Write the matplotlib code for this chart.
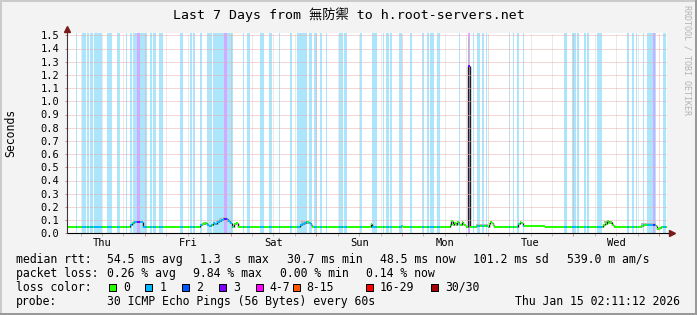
import datetime as dt
import numpy as np
import matplotlib
matplotlib.use("Agg")
import matplotlib.pyplot as plt
import matplotlib.dates as mdates
from matplotlib.collections import LineCollection
from matplotlib.patches import Rectangle
from matplotlib.ticker import NullFormatter, FormatStrFormatter

# ---------------- data ----------------
END = dt.datetime(2026, 1, 15, 2, 11, 12)
START = END - dt.timedelta(days=7)

title = "Last 7 Days from 無防禦 to h.root-servers.net"

# median rtt as step series: hours since window start, seconds
med_h = [0.0, 3.64, 5.88, 10.92, 12.6, 14.28, 15.4,
         17.64, 18.2, 18.76, 19.32, 20.72, 21.14,
         25.48, 26.88, 31.08, 33.32,
         37.24, 37.8, 38.64, 39.2, 39.76, 40.32, 40.88, 41.44, 42.0, 42.56,
         43.12, 43.68, 44.52, 45.08, 45.64, 46.2, 46.76, 47.32, 47.74,
         51.8, 53.48, 62.44, 64.12,
         65.24, 65.8, 66.36, 66.92, 67.76, 68.32, 68.6,
         70.28, 71.4, 76.44, 77.56, 84.98, 85.26, 89.04, 90.44, 93.52, 93.94,
         98.84, 99.96,
         107.24, 107.52, 107.94, 108.36, 108.78, 109.2, 109.62, 110.04, 110.6,
         110.88, 111.16, 111.72, 112.28, 112.7,
         114.52, 117.88, 118.16, 118.44, 118.86, 119.28, 119.56,
         120.4, 122.08, 122.64, 123.48,
         126.28, 126.7, 127.12, 127.54, 133.28, 133.84,
         135.24, 136.92, 145.04, 146.44,
         150.08, 150.5, 150.92, 151.2, 151.62, 152.04, 152.32, 152.6, 153.02,
         156.24, 157.64,
         160.72, 161.28, 164.92, 165.2, 165.76, 166.32]
med_v = [0.050, 0.044, 0.050, 0.044, 0.050, 0.044, 0.050,
         0.062, 0.075, 0.082, 0.087, 0.083, 0.050,
         0.044, 0.050, 0.044, 0.050,
         0.060, 0.072, 0.078, 0.065, 0.052, 0.060, 0.075, 0.068, 0.088, 0.095,
         0.100, 0.110, 0.105, 0.090, 0.075, 0.050, 0.072, 0.075, 0.050,
         0.044, 0.050, 0.044, 0.050,
         0.060, 0.070, 0.078, 0.083, 0.080, 0.065, 0.050,
         0.044, 0.050, 0.044, 0.050, 0.072, 0.050, 0.044, 0.050, 0.058, 0.050,
         0.044, 0.050,
         0.060, 0.092, 0.065, 0.075, 0.060, 0.085, 0.070, 0.062, 0.088,
         0.072, 0.060, 0.050, 1.270, 0.050,
         0.052, 0.050, 0.072, 0.085, 0.080, 0.065, 0.050,
         0.044, 0.050, 0.044, 0.050,
         0.070, 0.082, 0.075, 0.058, 0.052, 0.050,
         0.044, 0.050, 0.044, 0.050,
         0.065, 0.080, 0.070, 0.090, 0.075, 0.078, 0.082, 0.065, 0.050,
         0.044, 0.050,
         0.055, 0.060, 0.055, 0.030, 0.040, 0.046]

# periods with 1 lost ping (hours since start)
loss1_bands = [(2.44, 2.8), (4.2, 5.32), (5.52, 6.16), (6.44, 7.36), (7.56, 9.72),
               (11.2, 12.6), (13.92, 14.92), (16.44, 16.8), (17.56, 18.2), (18.48, 19.6),
               (20.52, 22.32), (23.24, 23.88), (24.08, 25.0), (25.76, 26.96), (31.64, 32.48),
               (34.36, 35.08), (35.28, 35.76), (37.16, 37.88), (39.2, 40.6), (40.8, 43.88),
               (44.72, 46.48), (49.2, 49.56), (50.32, 51.24), (53.96, 55.24), (56.56, 57.32),
               (59.36, 59.64), (62.44, 63.0), (64.4, 67.2), (67.76, 68.68), (69.16, 69.92),
               (70.84, 71.4), (72.44, 72.8), (76.16, 77.28), (77.56, 78.4), (82.04, 82.6),
               (85.4, 85.88), (85.96, 86.88), (88.48, 88.76), (89.32, 90.16), (90.36, 91.0),
               (92.96, 93.8), (96.04, 96.6), (99.48, 99.96), (100.8, 101.44), (101.64, 102.68),
               (103.6, 104.44), (109.76, 110.12), (113.6, 113.96), (114.8, 115.72),
               (116.12, 116.76), (117.24, 117.52), (123.68, 124.12), (124.8, 125.16),
               (125.92, 126.56), (127.6, 127.96), (139.08, 140.0), (141.4, 141.96),
               (142.04, 142.52), (142.8, 143.36), (144.76, 145.32), (145.6, 146.16),
               (148.32, 149.8), (156.8, 157.36), (158.28, 158.68), (159.24, 159.6),
               (161.2, 161.56), (162.4, 164.16), (164.56, 164.92), (166.88, 167.64)]
# periods with 3 lost pings
loss3_bands = [(19.6, 20.52), (43.88, 44.72), (112.28, 112.75), (164.16, 164.56)]

# smoke (spread of pings): t0, t1, low, high
smoke = [(18.48, 20.72, 0.082, 0.093), (38.08, 38.92, 0.075, 0.086),
         (41.72, 42.6, 0.086, 0.100), (42.6, 43.7, 0.095, 0.116),
         (43.7, 44.6, 0.105, 0.126), (44.6, 45.4, 0.088, 0.112),
         (65.5, 67.8, 0.070, 0.090), (112.4, 112.6, 1.27, 1.48),
         (114.5, 117.9, 0.052, 0.068), (150.3, 152.6, 0.075, 0.090),
         (160.7, 164.9, 0.060, 0.075)]

rtt_label = "median rtt:"
rtt_stats = ["54.5 ms avg", "1.3  s max", "30.7 ms min", "48.5 ms now",
             "101.2 ms sd", "539.0 m am/s"]
loss_label = "packet loss:"
loss_stats = ["0.26 % avg", "9.84 % max", "0.00 % min", "0.14 % now"]
color_label = "loss color:"
loss_names = ["0", "1", "2", "3", "4-7", "8-15", "16-29", "30/30"]
loss_colors = ["#26ff00", "#00b8ff", "#0059ff", "#7e00ff", "#ff00ff",
               "#ff5500", "#ff0000", "#a00000"]
probe_label = "probe:"
probe_text = "30 ICMP Echo Pings (56 Bytes) every 60s"
ylabel = "Seconds"
watermark = "RRDTOOL / TOBI OETIKER"

# ---------------- style / layout ----------------
W, H = 697, 315
MONO = ["DejaVu Sans Mono", "Noto Sans CJK TC"]
plt.rcParams["font.family"] = MONO
BG = "#f3f3f3"
MGRID = "#e4b0b0"
GRID = "#d6d6d6"
ARROW = "#7a1a1a"
band1_col = "#abe6fc"
band3_col = "#d2aaff"

def fy(py):
    return 1 - py / H

fig = plt.figure(figsize=(W / 100, H / 100), dpi=100, facecolor=BG)
ax = fig.add_axes([67 / W, 1 - 233.3 / H, 600 / W, 200.3 / H])
ax.set_facecolor("white")
x0 = mdates.date2num(START)

def tx(h):
    return x0 + np.asarray(h, dtype=float) / 24.0

ax.set_xlim(mdates.date2num(START), mdates.date2num(END))
ax.set_ylim(0, 1.5 * 200.3 / 198.0)

for s in ax.spines.values():
    s.set_visible(False)

# loss background bands
for a, b in loss1_bands:
    ax.axvspan(tx(a), tx(b), color=band1_col, lw=0, zorder=0.5)
for a, b in loss3_bands:
    ax.axvspan(tx(a), tx(b), color=band3_col, lw=0, zorder=0.5)

# grid
ax.set_yticks(np.round(np.arange(0, 1.51, 0.1), 1))
ax.yaxis.set_major_formatter(FormatStrFormatter("%.1f"))
ax.xaxis.set_major_locator(mdates.DayLocator())
ax.xaxis.set_minor_locator(mdates.HourLocator(byhour=[0, 6, 12, 18]))
ax.xaxis.set_major_formatter(NullFormatter())
ax.set_axisbelow(False)
ax.grid(True, which="major", axis="both", color=MGRID, linestyle=(0, (1, 1)),
        linewidth=0.72, zorder=1)
ax.grid(True, which="minor", axis="x", color=GRID, linestyle=(0, (1, 1)),
        linewidth=0.72, zorder=1)
ax.tick_params(axis="x", which="major", length=2.2, width=0.72, color="#d08a8a",
               direction="out")
ax.tick_params(axis="x", which="minor", length=2.2, width=0.72, color="#bbbbbb",
               direction="out")
ax.tick_params(axis="y", which="major", length=1.5, width=0.72, color="#d08a8a",
               direction="out", labelsize=7.5, pad=4.0)

# day labels at noon
d = START.replace(hour=12, minute=0, second=0)
while d < END:
    ax.annotate(d.strftime("%a"), xy=(mdates.date2num(d), 0),
                xycoords=("data", "axes fraction"), xytext=(0, -9.4 * 0.72),
                textcoords="offset points", ha="center", va="center",
                fontsize=7.5, annotation_clip=False)
    d += dt.timedelta(days=1)

# smoke
for a, b, lo, hi in smoke:
    ax.fill_between(tx([a, b]), lo, hi, color="#b8b8b8", lw=0, zorder=2)

# median line coloured by loss
edges = sorted({e for band in loss1_bands + loss3_bands for e in band})

def loss_color(t):
    for a, b in loss3_bands:
        if a <= t < b:
            return loss_colors[3]
    for a, b in loss1_bands:
        if a <= t < b:
            return loss_colors[1]
    return loss_colors[0]

ends = med_h[1:] + [168.0]
segs, cols = [], []
risers = []
for i, (a, b) in enumerate(zip(med_h, ends)):
    v = med_v[i]
    cuts = [a] + [e for e in edges if a < e < b] + [b]
    for c0, c1 in zip(cuts[:-1], cuts[1:]):
        segs.append([(tx(c0), v), (tx(c1), v)])
        cols.append(loss_color(0.5 * (c0 + c1)))
    if i + 1 < len(med_v):
        risers.append([(tx(b), v), (tx(b), med_v[i + 1])])
ax.add_collection(LineCollection(risers, colors="#1e1e1e", linewidths=1.0,
                                 zorder=2.5))
ax.add_collection(LineCollection(segs, colors=cols, linewidths=1.44,
                                 capstyle="butt", zorder=3))

# axes with arrows
ax.plot([0, 1.008], [0, 0], transform=ax.transAxes, color="black", lw=0.8,
        clip_on=False, zorder=5)
ax.plot([1.0085], [0], marker=">", ms=4.5, color=ARROW, transform=ax.transAxes,
        clip_on=False, zorder=6)
ax.plot([0, 0], [0, 1.02], transform=ax.transAxes, color="#3a3a3a", lw=0.8,
        clip_on=False, zorder=5)
ax.plot([0], [1.022], marker="^", ms=4.5, color=ARROW, transform=ax.transAxes,
        clip_on=False, zorder=6)

# texts
fig.text(0.5, fy(14.7), title, ha="center", va="center", fontsize=9.5)
fig.text(10.7 / W, fy(133), ylabel, rotation=90, ha="center", va="center",
         fontsize=8.3)
fig.text(687 / W, fy(60), watermark, rotation=270, ha="center", va="center",
         fontsize=6, color="#b3b3b3")

LFS = 8.3
fig.text(16 / W, fy(259.3), rtt_label, va="center", fontsize=LFS)
for xp, s in zip([107, 200.3, 286.7, 380, 473.3, 566.6], rtt_stats):
    fig.text(xp / W, fy(259.3), s, va="center", fontsize=LFS)
fig.text(16 / W, fy(273.3), loss_label, va="center", fontsize=LFS)
for xp, s in zip([107, 193.4, 279.8, 366.2], loss_stats):
    fig.text(xp / W, fy(273.3), s, va="center", fontsize=LFS)
fig.text(16 / W, fy(287.3), color_label, va="center", fontsize=LFS)
for xp, name, c in zip([109.3, 145.3, 182.3, 219, 255.7, 292.7, 366, 431],
                       loss_names, loss_colors):
    fig.add_artist(Rectangle((xp / W, fy(291.0)), 7 / W, 7.5 / H,
                             transform=fig.transFigure, facecolor=c,
                             edgecolor="black", lw=0.72))
    fig.text((xp + 14) / W, fy(287.3), name, va="center", fontsize=LFS)
fig.text(16 / W, fy(301.3), probe_label, va="center", fontsize=LFS)
fig.text(107 / W, fy(301.3), probe_text, va="center", fontsize=LFS)
fig.text(680 / W, fy(301.3), END.strftime("%a %b %d %H:%M:%S %Y"), ha="right",
         va="center", fontsize=LFS)

# frame shading
fig.add_artist(Rectangle((0, 1 - 2 / H), 1, 2 / H, transform=fig.transFigure,
                         facecolor="#cbcbcb", lw=0))
fig.add_artist(Rectangle((0, 0), 2 / W, 1, transform=fig.transFigure,
                         facecolor="#cbcbcb", lw=0))
fig.add_artist(Rectangle((0, 0), 1, 2 / H, transform=fig.transFigure,
                         facecolor="#999999", lw=0))
fig.add_artist(Rectangle((1 - 2 / W, 0), 2 / W, 1, transform=fig.transFigure,
                         facecolor="#999999", lw=0))

fig.savefig("out.png", dpi=100, facecolor=BG)
